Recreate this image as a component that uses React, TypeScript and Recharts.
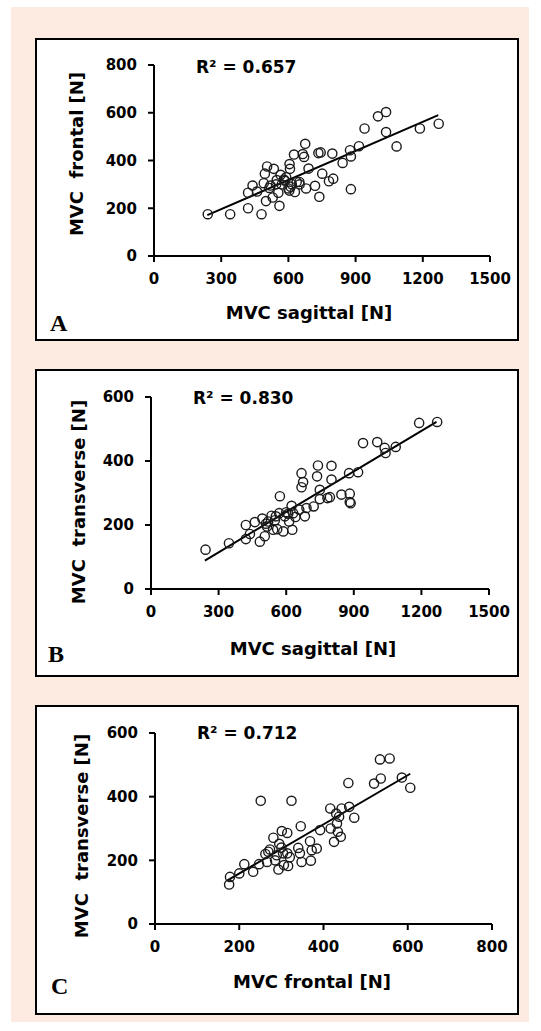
import { ScatterChart, Scatter, XAxis, YAxis, ReferenceLine } from 'recharts';

// Panel A: sagittal vs frontal
const sagittalA = [240, 340, 420, 480, 420, 440, 460, 490, 500, 505, 495, 515, 530, 535, 548, 555, 560, 565, 570, 585, 600, 605, 607, 604, 615, 625, 629, 637, 649, 664, 670, 675, 679, 690, 719, 738, 734, 744, 751, 781, 800, 796, 842, 875, 879, 879, 915, 940, 1000, 1036, 1036, 1083, 1187, 1271, 520, 580, 610, 545, 590, 650];
const frontalA = [175, 175, 200, 175, 265, 295, 270, 305, 230, 375, 345, 285, 245, 365, 318, 265, 210, 340, 300, 315, 283, 385, 365, 274, 301, 425, 268, 310, 310, 427, 415, 470, 283, 366, 294, 248, 431, 434, 345, 313, 324, 429, 390, 443, 417, 280, 460, 534, 585, 603, 519, 459, 534, 554, 295, 320, 290, 300, 330, 300];
const fitA = [{ x: 238, y: 171 }, { x: 1269, y: 590 }];

// Panel B: sagittal vs transverse
const sagittalB = [242, 346, 421, 421, 439, 461, 483, 494, 505, 510, 520, 535, 542, 554, 560, 569, 572, 587, 594, 609, 613, 624, 627, 631, 641, 658, 668, 675, 668, 683, 690, 722, 737, 741, 749, 749, 783, 801, 801, 845, 879, 882, 882, 919, 941, 1004, 1037, 1041, 1086, 1190, 1270, 886, 794, 600, 550, 515];
const transverseB = [123, 143, 156, 200, 172, 209, 148, 220, 165, 204, 211, 229, 185, 227, 187, 237, 290, 180, 227, 235, 211, 260, 185, 237, 225, 248, 362, 334, 318, 227, 253, 258, 352, 386, 310, 281, 284, 385, 342, 295, 362, 298, 272, 365, 456, 459, 441, 425, 444, 519, 522, 268, 287, 240, 215, 195];
const fitB = [{ x: 239, y: 89 }, { x: 1267, y: 522 }];

// Panel C: frontal vs transverse
const frontalC = [176, 178, 200, 212, 233, 247, 251, 266, 269, 273, 281, 289, 293, 295, 301, 304, 306, 314, 316, 314, 324, 340, 344, 346, 348, 368, 370, 372, 384, 392, 416, 417, 425, 430, 432, 434, 441, 443, 459, 461, 473, 520, 536, 534, 557, 586, 606, 437, 262, 300, 320, 285];
const transverseC = [124, 148, 159, 188, 164, 188, 387, 195, 227, 234, 271, 216, 171, 252, 292, 222, 185, 286, 182, 222, 387, 239, 222, 307, 195, 260, 199, 232, 237, 295, 363, 300, 258, 347, 316, 290, 274, 363, 443, 368, 334, 441, 457, 517, 520, 460, 428, 337, 220, 240, 210, 200];
const fitC = [{ x: 172, y: 137 }, { x: 606, y: 472 }];

const sagittalTicks = [0, 300, 600, 900, 1200, 1500];
const frontalTicksA = [0, 200, 400, 600, 800];
const transverseTicks = [0, 200, 400, 600];
const frontalTicksC = [0, 200, 400, 600, 800];

const zip = (xs: number[], ys: number[]) => xs.map((x, i) => ({ x, y: ys[i] }));

const SANS = '"DejaVu Sans", sans-serif';
const tickStyle = { fill: '#000', fontSize: 15, fontWeight: 700, fontFamily: SANS };
const axisLine = { stroke: '#000', strokeWidth: 2 };

function Ring(props: any) {
  const { cx, cy } = props;
  return <circle cx={cx} cy={cy} r={4.6} fill="none" stroke="#1a1a1a" strokeWidth={1.4} />;
}

interface PanelProps {
  top: number;
  height: number;
  margin: { top: number; right: number; bottom: number; left: number };
  data: { x: number; y: number }[];
  fit: { x: number; y: number }[];
  xTicks: number[];
  yTicks: number[];
  xTitle: string;
  yTitle: string;
  r2: string;
  letter: string;
  r2Pos: [number, number];
  xTitlePos: [number, number];
  yTitlePos: [number, number];
  letterPos: [number, number];
}

function Panel(p: PanelProps) {
  const W = 484;
  return (
    <div style={{ position: 'absolute', left: 35, top: p.top, width: W, height: p.height, background: '#fff', boxShadow: 'inset 0 0 0 2px #000' }}>
      <div style={{ position: 'absolute', left: 0, top: 0 }}>
        <ScatterChart width={W} height={p.height} margin={p.margin}>
          <XAxis
            type="number"
            dataKey="x"
            domain={[p.xTicks[0], p.xTicks[p.xTicks.length - 1]]}
            ticks={p.xTicks}
            interval={0}
            height={40}
            tick={tickStyle}
            tickSize={6}
            tickMargin={11}
            axisLine={axisLine}
            tickLine={axisLine}
          />
          <YAxis
            type="number"
            dataKey="y"
            domain={[p.yTicks[0], p.yTicks[p.yTicks.length - 1]]}
            ticks={p.yTicks}
            interval={0}
            width={60}
            tick={tickStyle}
            tickSize={6}
            tickMargin={11}
            axisLine={axisLine}
            tickLine={axisLine}
          />
          <Scatter data={p.data} shape={Ring} isAnimationActive={false} />
          <ReferenceLine segment={p.fit} stroke="#000" strokeWidth={2} />
        </ScatterChart>
      </div>
      <svg width={W} height={p.height} style={{ position: 'absolute', left: 0, top: 0, pointerEvents: 'none' }}>
        <text x={p.r2Pos[0]} y={p.r2Pos[1]} fontFamily={SANS} fontWeight={700} fontSize={17} fill="#000">{p.r2}</text>
        <text x={p.xTitlePos[0]} y={p.xTitlePos[1]} textAnchor="middle" fontFamily={SANS} fontWeight={700} fontSize={18} fill="#000">{p.xTitle}</text>
        <text
          x={p.yTitlePos[0]}
          y={p.yTitlePos[1]}
          textAnchor="middle"
          transform={`rotate(-90 ${p.yTitlePos[0]} ${p.yTitlePos[1]})`}
          fontFamily={SANS}
          fontWeight={700}
          fontSize={18}
          fill="#000"
          style={{ whiteSpace: 'pre' }}
        >
          {p.yTitle}
        </text>
        <text x={p.letterPos[0]} y={p.letterPos[1]} fontFamily='"Liberation Serif", serif' fontWeight={700} fontSize={24} fill="#000">{p.letter}</text>
      </svg>
    </div>
  );
}

export default function App() {
  return (
    <div style={{ position: 'absolute', left: 0, top: 0, width: 541, height: 1031, background: '#fff' }}>
      <div style={{ position: 'absolute', left: 11, top: 7, width: 518, height: 1015, background: '#fdebe1' }} />
      <Panel
        top={38}
        height={303}
        margin={{ top: 27, right: 29, bottom: 45, left: 59 }}
        data={zip(sagittalA, frontalA)}
        fit={fitA}
        xTicks={sagittalTicks}
        yTicks={frontalTicksA}
        xTitle="MVC sagittal [N]"
        yTitle="MVC  frontal [N]"
        r2="R² = 0.657"
        letter="A"
        r2Pos={[161, 35]}
        xTitlePos={[274, 281]}
        yTitlePos={[48, 116]}
        letterPos={[15, 293]}
      />
      <Panel
        top={369}
        height={308}
        margin={{ top: 28, right: 30, bottom: 48, left: 56 }}
        data={zip(sagittalB, transverseB)}
        fit={fitB}
        xTicks={sagittalTicks}
        yTicks={transverseTicks}
        xTitle="MVC sagittal [N]"
        yTitle="MVC  transverse [N]"
        r2="R² = 0.830"
        letter="B"
        r2Pos={[158, 35]}
        xTitlePos={[278, 286]}
        yTitlePos={[50, 133]}
        letterPos={[13, 293]}
      />
      <Panel
        top={705}
        height={310}
        margin={{ top: 28, right: 27, bottom: 51, left: 60 }}
        data={zip(frontalC, transverseC)}
        fit={fitC}
        xTicks={frontalTicksC}
        yTicks={transverseTicks}
        xTitle="MVC frontal [N]"
        yTitle="MVC  transverse [N]"
        r2="R² = 0.712"
        letter="C"
        r2Pos={[162, 34]}
        xTitlePos={[277, 283]}
        yTitlePos={[53, 131]}
        letterPos={[16, 289]}
      />
    </div>
  );
}
